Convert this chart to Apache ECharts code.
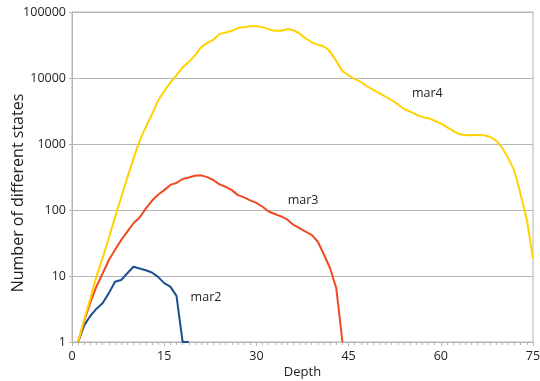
<!DOCTYPE html>
<html>
<head>
<meta charset="utf-8">
<script src="https://cdn.jsdelivr.net/npm/echarts@6/dist/echarts.min.js"></script>
<style>
  html, body { margin: 0; padding: 0; background: #fff; }
  #main { width: 540px; height: 381px; }
</style>
</head>
<body>
<div id="main"></div>
<script>
// values, depth starts at 1
var mar2 = [1, 1.8, 2.5, 3.2, 3.9, 5.5, 8.2, 8.7, 11, 13.8, 13, 12.2, 11.3, 9.7, 7.8, 6.9, 5, 1, 1];
var mar3 = [1, 2.1, 4, 7, 11, 17.5, 25, 35, 47, 63, 77, 105, 138, 170, 200, 240, 258, 295, 310, 330,
  335, 315, 285, 245, 225, 200, 168, 155, 140, 128, 112, 95, 87, 80, 72, 60, 53, 47, 42, 33,
  21, 13, 6.5, 1];
var mar4 = [1, 2.2, 4.6, 10, 19, 38, 78, 155, 310, 600, 1100, 1800, 2800, 4500, 6300, 8500, 11000, 14500,
  17500, 22000, 29000, 34000, 38000, 46000, 49000, 52000, 57000, 59000, 61000, 61000, 59000, 55000,
  52000, 52000, 55000, 53000, 47000, 40000, 35000, 32000, 30000, 25000, 18000, 12800, 11000, 9700,
  8700, 7500, 6600, 5900, 5200, 4600, 4000, 3400, 3100, 2800, 2550, 2450, 2250, 2050, 1800, 1580,
  1420, 1370, 1360, 1370, 1360, 1280, 1120, 870, 600, 380, 170, 70, 18];
var xTicks = [0, 15, 30, 45, 60, 75];
var yTicks = [1, 10, 100, 1000, 10000, 100000];

var names = ['mar2', 'mar3', 'mar4'];
var colors = ['#1c4f8f', '#f04a22', '#ffd200'];
// where the series names sit (depth, value)
var labelAt = [[21.8, 4.8], [37.6, 141], [57.8, 5900]];

function pairs(arr) {
  return arr.map(function (v, i) { return [i + 1, v]; });
}

var font = '"Open Sans", "Noto Sans", sans-serif';
var chart = echarts.init(document.getElementById('main'));

var series = [mar2, mar3, mar4].map(function (arr, k) {
  return {
    name: names[k],
    type: 'line',
    data: pairs(arr),
    symbol: 'none',
    smooth: k === 2 ? 0.2 : false,
    lineStyle: { color: colors[k], width: 2 },
    z: 3 + k,
    markPoint: {
      symbol: 'circle',
      symbolSize: 0,
      silent: true,
      data: [{ coord: labelAt[k], value: names[k] }],
      label: {
        show: true, position: 'inside', formatter: names[k],
        color: '#222', fontSize: 12.5, fontFamily: font
      }
    }
  };
});

chart.setOption({
  animation: false,
  backgroundColor: '#fff',
  grid: {
    left: 72, right: 7, top: 12, bottom: 39,
    containLabel: false, outerBoundsMode: 'none',
    show: true, borderColor: '#b5b5b5', borderWidth: 1
  },
  // y title sits a bit below the middle in the original
  graphic: [{
    type: 'text',
    x: 18, y: 193,
    rotation: Math.PI / 2,
    style: {
      text: 'Number of different states',
      fill: '#222', font: '16px ' + font,
      textAlign: 'center', textVerticalAlign: 'middle'
    }
  }],
  xAxis: {
    type: 'value',
    min: xTicks[0], max: xTicks[xTicks.length - 1], interval: 15,
    name: 'Depth', nameLocation: 'middle', nameGap: 24, nameMoveOverlap: false,
    nameTextStyle: { color: '#222', fontSize: 13, fontFamily: font },
    axisLine: { lineStyle: { color: '#b5b5b5' } },
    axisTick: { show: true, length: 4, lineStyle: { color: '#b5b5b5' } },
    minorTick: { show: true, splitNumber: 15, length: 3, lineStyle: { color: '#b5b5b5' } },
    splitLine: { show: false },
    axisLabel: { color: '#222', fontSize: 12.5, fontFamily: font, margin: 8 }
  },
  yAxis: {
    type: 'log', logBase: 10,
    min: yTicks[0], max: yTicks[yTicks.length - 1],
    axisLine: { show: true, lineStyle: { color: '#b5b5b5' } },
    axisTick: { show: true, length: 3, lineStyle: { color: '#b5b5b5' } },
    splitLine: { show: true, lineStyle: { color: '#b5b5b5', width: 1 } },
    axisLabel: {
      color: '#222', fontSize: 12.5, fontFamily: font, margin: 6,
      formatter: function (v) { return String(Math.round(v)); }
    }
  },
  series: series
});
</script>
</body>
</html>
